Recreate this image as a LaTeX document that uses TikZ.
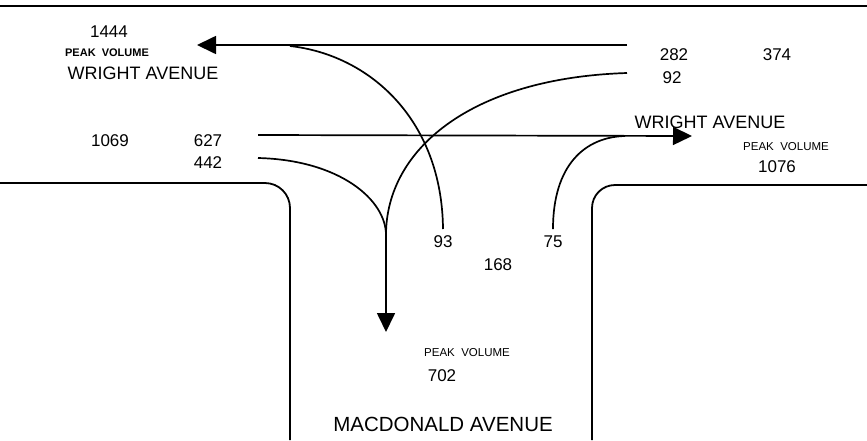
\documentclass[tikz,border=0pt]{standalone}
\usepackage{fontspec}
\setmainfont{Liberation Sans}
\usetikzlibrary{arrows.meta}
\tikzset{
  road/.style={line width=1.8pt, black},
  flow/.style={line width=1.7pt, black},
  tip/.style={-{Triangle[length=19pt,width=18pt]}},
  vol/.style={inner sep=0pt, font=\fontsize{17}{17}\selectfont},
  street/.style={inner sep=0pt, font=\fontsize{18}{18}\selectfont},
  peak/.style={inner sep=0pt, font=\fontsize{11.5}{11.5}\selectfont},
}
\begin{document}
\begin{tikzpicture}[x=1pt,y=-1pt]
\useasboundingbox (0,0) rectangle (867,440);
% road edges
\draw[road] (0,6) -- (867,6);
\draw[road, rounded corners=25pt] (0,183) -- (290,183) -- (290,440);
\draw[road, rounded corners=23pt] (867,185) -- (592,185) -- (592,440);

% labels
\node[vol] (v1444) at (109,32) {1444};
\node[peak, font=\fontsize{11}{11}\selectfont\bfseries] (pkW) at (107,53) {PEAK\ \ VOLUME};
\node[street] (wrW) at (143,73) {WRIGHT AVENUE};
\node[vol] (v282) at (674,55) {282};
\node[vol] (v374) at (777,55) {374};
\node[vol] (v92) at (672,78) {92};
\node[street] (wrE) at (710,122) {WRIGHT AVENUE};
\node[peak] (pkE) at (786,147) {PEAK\ \ VOLUME};
\node[vol] (v1076) at (777,167) {1076};
\node[vol] (v1069) at (110,141) {1069};
\node[vol] (v627) at (208,141) {627};
\node[vol] (v442) at (208,163) {442};
\node[vol] (v93) at (443,242) {93};
\node[vol] (v75) at (553,242) {75};
\node[vol] (v168) at (498,265) {168};
\node[peak] (pkS) at (467,353) {PEAK\ \ VOLUME};
\node[vol] (v702) at (442,376) {702};
\node[street, font=\fontsize{20.5}{20.5}\selectfont] (mac) at (443,424) {MACDONALD AVENUE};

% connector end points
\coordinate (wbS) at (627,45);
\coordinate (wbE) at (197,45);
\coordinate (wbJ) at (290,46);
\coordinate (lt93) at (443,229);
\coordinate (ebS) at (258,135);
\coordinate (ebE) at (692,136);
\coordinate (ebJ) at (625,136);
\coordinate (lt75) at (553,229);
\coordinate (s92) at (627,73);
\coordinate (s442) at (258,158);
\coordinate (jn) at (386,235);
\coordinate (sbE) at (386,332);

% westbound
\draw[flow, tip] (wbS) -- (wbE);
\draw[flow] (lt93) .. controls (442,120) and (370,55) .. (wbJ);
% eastbound
\draw[flow, tip] (ebS) -- (ebE);
\draw[flow] (lt75) .. controls (553,165) and (585,137) .. (ebJ);
% southbound
\draw[flow] (s92) .. controls (470,78) and (386,150) .. (jn);
\draw[flow] (s442) .. controls (340,160) and (386,200) .. (jn);
\draw[flow, tip] (jn) -- (sbE);
\end{tikzpicture}
\end{document}
